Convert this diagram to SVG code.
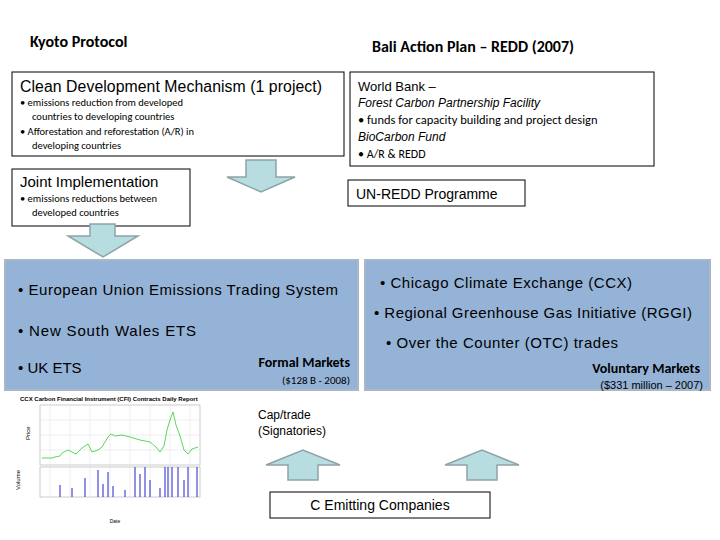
<svg xmlns="http://www.w3.org/2000/svg" width="720" height="540" viewBox="0 0 720 540">
<style>
text{font-family:"Liberation Sans",Arial,sans-serif;fill:#000}
.c{font-family:Carlito,"Liberation Sans",sans-serif}
.box{fill:#fff;stroke:#000;stroke-width:1}
.blue{fill:#95b3d7;stroke:#a9b8c8;stroke-width:2}
.arr{fill:#b7dde0;stroke:#8ea3a6;stroke-width:1.5}
.g{stroke:#ddd;stroke-width:0.5}
</style>
<rect width="720" height="540" fill="#fff"/>
<text x="30" y="47" font-size="16" font-weight="bold" class="c">Kyoto Protocol</text>
<text x="372" y="52" font-size="16" font-weight="bold" class="c">Bali Action Plan – REDD (2007)</text>
<g id="cdm"><rect class="box" x="12" y="72" width="332" height="84"/>
<text x="20" y="92" font-size="15.8" textLength="302">Clean Development Mechanism (1 project)</text>
<text x="20" y="106" font-size="10.5" class="c">•  emissions reduction from developed</text>
<text x="32" y="120" font-size="10.5" class="c">countries to developing countries</text>
<text x="20" y="135" font-size="10.5" class="c">•  Afforestation and reforestation (A/R) in</text>
<text x="32" y="149" font-size="10.5" class="c">developing countries</text></g>
<g id="ji"><rect class="box" x="12" y="169" width="178" height="57"/>
<text x="20" y="187" font-size="15">Joint Implementation</text>
<text x="20" y="202" font-size="10.5" class="c">•  emissions reductions between</text>
<text x="32" y="216" font-size="10.5" class="c">developed countries</text></g>
<g id="wb"><rect class="box" x="350" y="72" width="304" height="94"/>
<text x="358" y="91" font-size="13">World Bank –</text>
<text x="358" y="107" font-size="12" font-style="italic">Forest Carbon Partnership Facility</text>
<text x="358" y="124" font-size="12.5" class="c">• funds for capacity building and project design</text>
<text x="358" y="141" font-size="12" font-style="italic">BioCarbon  Fund</text>
<text x="358" y="158" font-size="12" class="c">• A/R &amp; REDD</text></g>
<g id="unredd"><rect class="box" x="348" y="180" width="177" height="26"/>
<text x="356" y="199" font-size="14">UN-REDD Programme</text></g>
<g id="connectors">
<path class="arr" d="M246 160H276V177H295L261 192L227 177H246Z"/>
<path class="arr" d="M90 224H115V236H138L103 257L68 236H90Z"/>
<path class="arr" d="M288 480H318V465H340L303 450L266 465H288Z"/>
<path class="arr" d="M467 480H497V465H519L482 450L445 465H467Z"/>
</g>
<g id="formal"><rect class="blue" x="5" y="260" width="353" height="130"/>
<text x="18" y="295" font-size="15" textLength="320">• European Union Emissions Trading System</text>
<text x="18" y="336" font-size="15" textLength="178">• New South Wales  ETS</text>
<text x="18" y="373" font-size="15">• UK ETS</text>
<text x="350" y="367" font-size="14" font-weight="bold" text-anchor="end" class="c">Formal Markets</text>
<text x="350" y="384" font-size="11" text-anchor="end" class="c">($128 B - 2008)</text></g>
<g id="voluntary"><rect class="blue" x="365" y="260" width="345" height="130"/>
<text x="380" y="288" font-size="15" textLength="252">• Chicago Climate Exchange (CCX)</text>
<text x="374" y="318" font-size="15" textLength="318">• Regional Greenhouse Gas Initiative (RGGI)</text>
<text x="386" y="348" font-size="15" textLength="232">•  Over the Counter (OTC) trades</text>
<text x="700" y="373" font-size="14" font-weight="bold" text-anchor="end" class="c">Voluntary Markets</text>
<text x="703" y="389" font-size="11" text-anchor="end">($331 million – 2007)</text></g>
<g id="chart">
<text x="20" y="401" font-size="6" font-weight="bold">CCX Carbon Financial Instrument (CFI) Contracts Daily Report</text>
<rect x="40" y="405" width="160" height="60" fill="#fff" stroke="#999" stroke-width="0.5"/>
<rect x="40" y="467" width="160" height="30" fill="#fff" stroke="#999" stroke-width="0.5"/>
<path class="g" d="M50 405V497M70 405V497M90 405V497M110 405V497M130 405V497M150 405V497M170 405V497M190 405V497M40 420H200M40 435H200M40 450H200"/>
<path fill="none" stroke="#3c3" stroke-width="0.8" d="M42 458L52 458L55 457L60 456L62 453L68 450L72 452L76 454L82 448L88 444L92 452L98 450L102 447L108 437L111 434L115 436L122 435L130 437L140 440L150 442L156 447L160 452L164 446L167 430L170 420L173 412L176 425L180 436L184 450L188 454L192 449L198 447"/>
<path stroke="#22c" stroke-width="1" d="M60 497V485M72 497V488M85 497V478M98 497V470M108 497V472M113 497V486M135 497V467M140 497V474M145 497V467M150 497V480M165 497V467M168 497V467M172 497V467M178 497V467M184 497V480M188 497V467M197 497V467M125 497V490M160 497V488M103 497V484"/>
<text x="30" y="440" font-size="6" transform="rotate(-90 30 440)">Price</text>
<text x="20" y="490" font-size="6" transform="rotate(-90 20 490)">Volume</text>
<text x="115" y="523" font-size="5" text-anchor="middle">Date</text>
</g>
<text x="258" y="419" font-size="12">Cap/trade</text>
<text x="258" y="435" font-size="12">(Signatories)</text>
<g id="emit"><rect class="box" x="270" y="492" width="220" height="26"/>
<text x="380" y="510" font-size="14" text-anchor="middle">C Emitting Companies</text></g>
</svg>
